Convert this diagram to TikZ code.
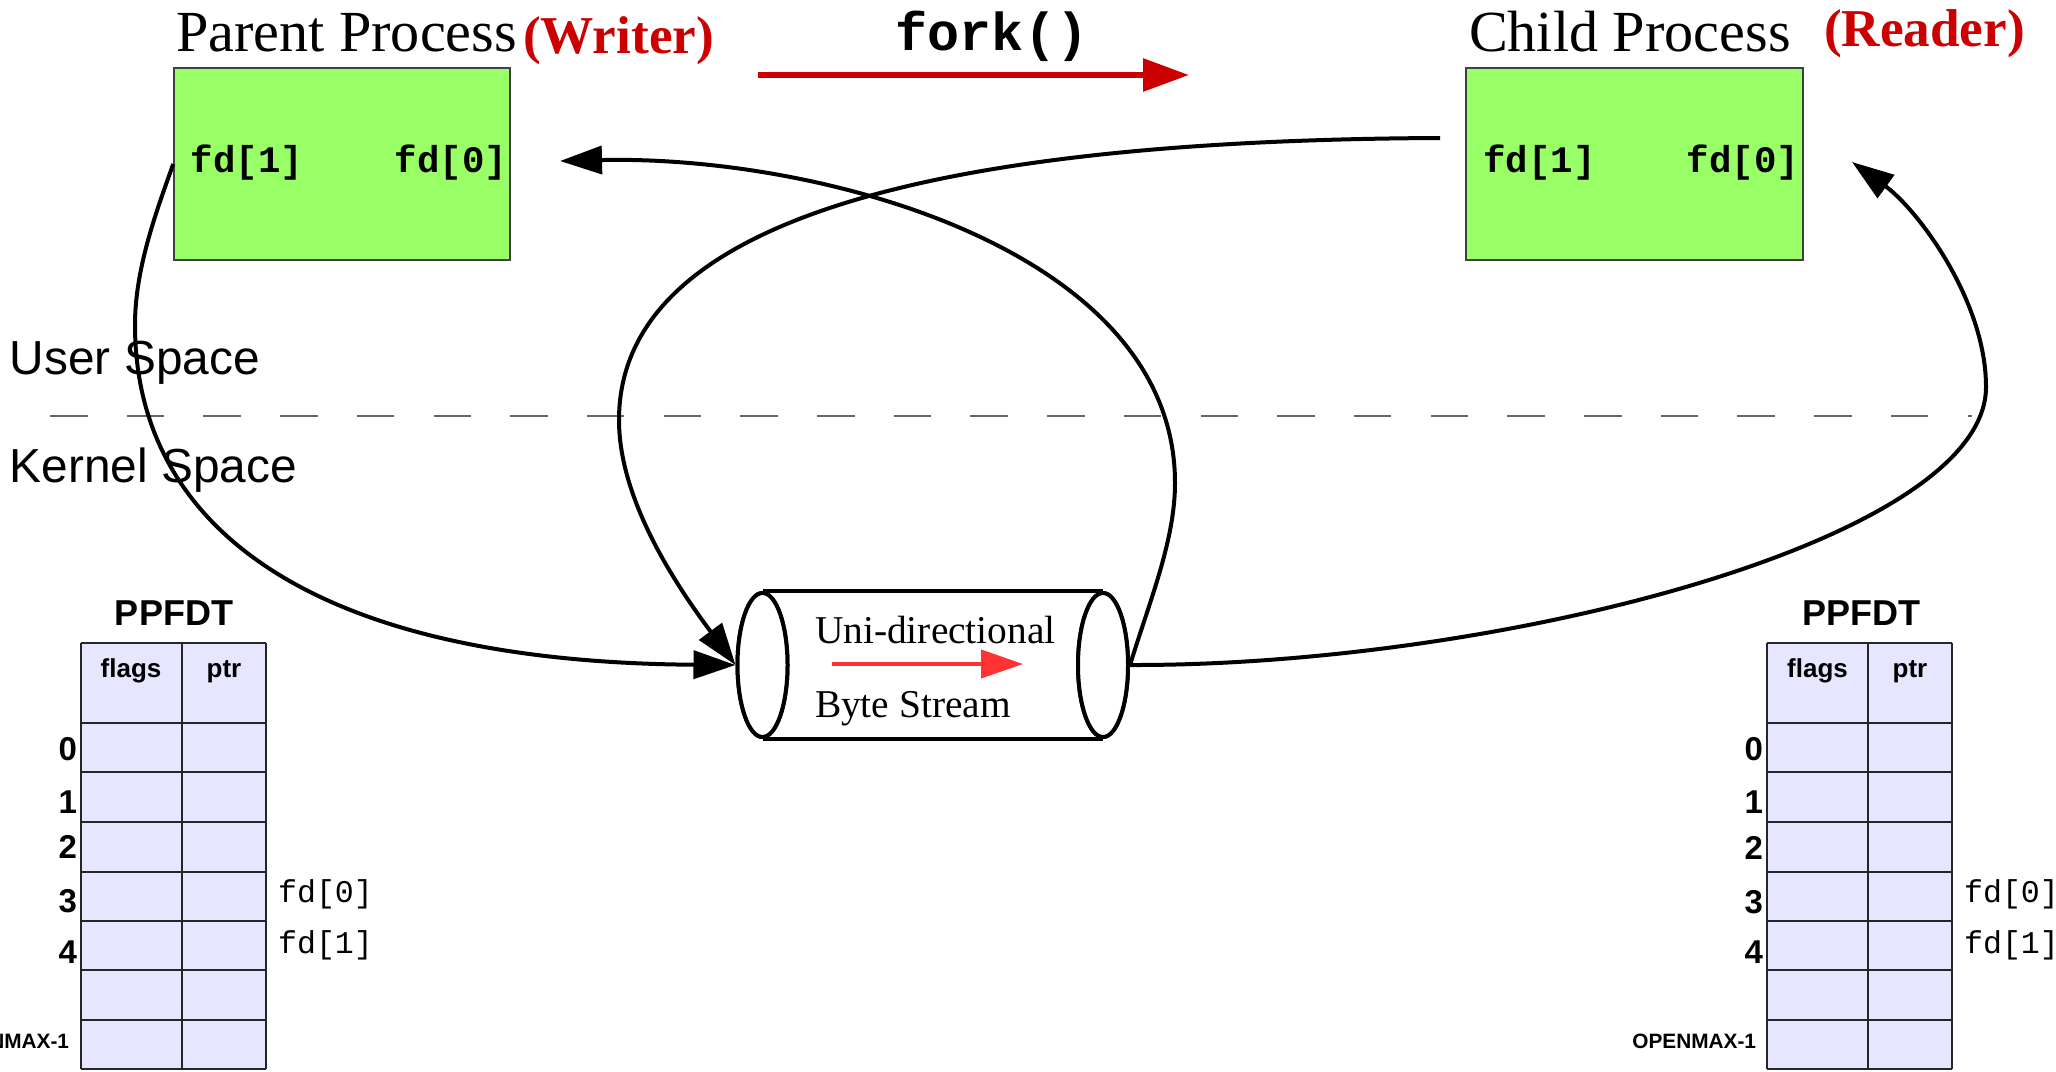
\documentclass[tikz,border=0pt]{standalone}
\usepackage{fontspec}
\setmainfont{Liberation Serif}
\newfontfamily\sansf{Liberation Sans}
\newfontfamily\monof{Liberation Mono}
\usetikzlibrary{arrows.meta,shapes.geometric}
\definecolor{procgreen}{HTML}{99FF66}
\definecolor{boxedge}{HTML}{404040}
\definecolor{darkred}{HTML}{CC0000}
\definecolor{brightred}{HTML}{FF3333}
\definecolor{tablefill}{HTML}{E6E6FF}
\definecolor{dashgrey}{HTML}{666666}
\newcommand{\setfs}[1]{\fontsize{#1}{#1}\selectfont}
\tikzset{
  lbl/.style={inner sep=0pt, outer sep=0pt, anchor=base},
  conn/.style={line width=2pt, -{Triangle[length=21pt,width=14pt]}},
  procbox/.style={draw=boxedge, fill=procgreen, line width=0.75pt, minimum height=96pt, inner sep=0pt},
  pipeend/.style={ellipse, draw, fill=white, line width=2pt, minimum width=25pt, minimum height=72pt, inner sep=0pt},
  tabline/.style={draw=black!85, line width=0.9pt},
  boxfd/.style={lbl, font=\monof\bfseries\setfs{18.7pt}},
  tabfd/.style={lbl, font=\monof\setfs{15.8pt}},
  digit/.style={lbl, anchor=base east, font=\sansf\bfseries\setfs{16.5pt}},
  head/.style={lbl, font=\sansf\bfseries\setfs{13pt}},
  tabtitle/.style={lbl, font=\sansf\bfseries\setfs{18pt}},
  spacelbl/.style={lbl, anchor=base west, font=\sansf\setfs{23.9pt}},
  proctitle/.style={lbl, anchor=base west, font=\setfs{29.1pt}},
  role/.style={lbl, anchor=base west, font=\bfseries\setfs{26.6pt}, text=darkred},
  pipetext/.style={lbl, anchor=base west, font=\setfs{19.7pt}}
}
\begin{document}
\begin{tikzpicture}[x=0.5pt,y=-0.5pt]
\useasboundingbox (0,0) rectangle (2056,1071);
\clip (0,0) rectangle (2056,1071);

% user / kernel divider
\coordinate (dashA) at (50,416);
\coordinate (dashB) at (1972,416);
\draw[dashgrey, line width=0.75pt, dash pattern=on 18.75pt off 19.6pt] (dashA) -- (dashB);
\node[spacelbl] (user) at (10,374) {User Space};
\node[spacelbl] (kernel) at (10,482) {Kernel Space};

% processes
\node[procbox, minimum width=168pt] (parent) at (342,164) {};
\node[procbox, minimum width=168.5pt] (child) at (1634.5,164) {};
\node[proctitle] (ptitle) at (176,51) {Parent Process};
\node[role] (writer) at (523,53) {(Writer)};
\node[proctitle] (ctitle) at (1469,51) {Child Process};
\node[role] (reader) at (1824,46) {(Reader)};
\node[boxfd] (pfd1) at (247,172) {fd[1]};
\node[boxfd] (pfd0) at (451,172) {fd[0]};
\node[boxfd] (cfd1) at (1539.5,172) {fd[1]};
\node[boxfd] (cfd0) at (1743,172) {fd[0]};

% fork
\node[lbl, font=\monof\bfseries\setfs{26.7pt}] (fork) at (992,50) {fork()};
\coordinate (forkA) at (758,75);
\coordinate (forkB) at (1189,75);
\draw[darkred, line width=3pt, -{Triangle[length=23pt,width=16pt]}] (forkA) -- (forkB);

% tables
\foreach \xa/\xb/\xc in {81/182/266, 1767/1868/1952} {
  \fill[tablefill] (\xa,643) rectangle (\xc,1069);
  \foreach \yy in {643,723,772,822,872,921,970,1020,1069}
    \draw[tabline] (\xa,\yy) -- (\xc,\yy);
  \draw[tabline] (\xa,643) -- (\xa,1069);
  \draw[tabline] (\xb,643) -- (\xb,1069);
  \draw[tabline] (\xc,643) -- (\xc,1069);
}
\node[tabtitle] (lppfdt) at (174,625) {PPFDT};
\node[tabtitle] (rppfdt) at (1861,625) {PPFDT};
\node[head] (lflags) at (131,677) {flags};
\node[head] (lptr) at (224,677) {ptr};
\node[head] (rflags) at (1817.5,677) {flags};
\node[head] (rptr) at (1910,677) {ptr};
\node[digit] (l0) at (77,760) {0};
\node[digit] (l1) at (77,813) {1};
\node[digit] (l2) at (77,858) {2};
\node[digit] (l3) at (77,912) {3};
\node[digit] (l4) at (77,963) {4};
\node[digit] (r0) at (1763,760) {0};
\node[digit] (r1) at (1763,813) {1};
\node[digit] (r2) at (1763,859) {2};
\node[digit] (r3) at (1763,913) {3};
\node[digit] (r4) at (1763,963) {4};
\node[lbl, anchor=base east, font=\sansf\bfseries\setfs{10.4pt}] (lmax) at (69,1048) {OPENMAX-1};
\node[lbl, anchor=base east, font=\sansf\bfseries\setfs{10.4pt}] (rmax) at (1756,1048) {OPENMAX-1};
\node[tabfd] (lt0) at (325.5,902) {fd[0]};
\node[tabfd] (lt1) at (325.5,953) {fd[1]};
\node[tabfd] (rt0) at (2011.5,902) {fd[0]};
\node[tabfd] (rt1) at (2011.5,953) {fd[1]};

% pipe
\node[pipeend] (pipeL) at (762.5,665) {};
\node[pipeend] (pipeR) at (1103,665) {};
\draw[line width=2pt] (pipeL.north) -- (pipeR.north);
\draw[line width=2pt] (pipeL.south) -- (pipeR.south);
\node[pipeend] (pipeRfront) at (pipeR) {};
\node[pipeend] (pipeLfront) at (pipeL) {};
\node[pipetext] (uni) at (815,643) {Uni-directional};
\node[pipetext] (byte) at (815,717) {Byte Stream};
\coordinate (flowA) at (832,664);
\coordinate (flowB) at (1023,664);
\draw[brightred, line width=2pt, -{Triangle[length=21pt,width=14pt]}] (flowA) -- (flowB);

% connectors
\coordinate (c2start) at (1440,138);
\coordinate (p0tip) at (560,161);
\coordinate (c0tip) at (1852,162);
\draw[conn] (parent.west) .. controls (155,215) and (135,270) .. (135,325)
   .. controls (135,520) and (300,662) .. (pipeL.west);
\draw[conn] (c2start) .. controls (1000,140) and (619,200) .. (619,420)
   .. controls (619,500) and (676,585) .. (pipeL.west);
\draw[conn] (pipeR.east) .. controls (1150,600) and (1175,540) .. (1175,483)
   .. controls (1175,250) and (820,155) .. (p0tip);
\draw[conn] (pipeR.east) .. controls (1500,666) and (1986,540) .. (1986,387)
   .. controls (1986,300) and (1917,209) .. (c0tip);
\end{tikzpicture}
\end{document}
